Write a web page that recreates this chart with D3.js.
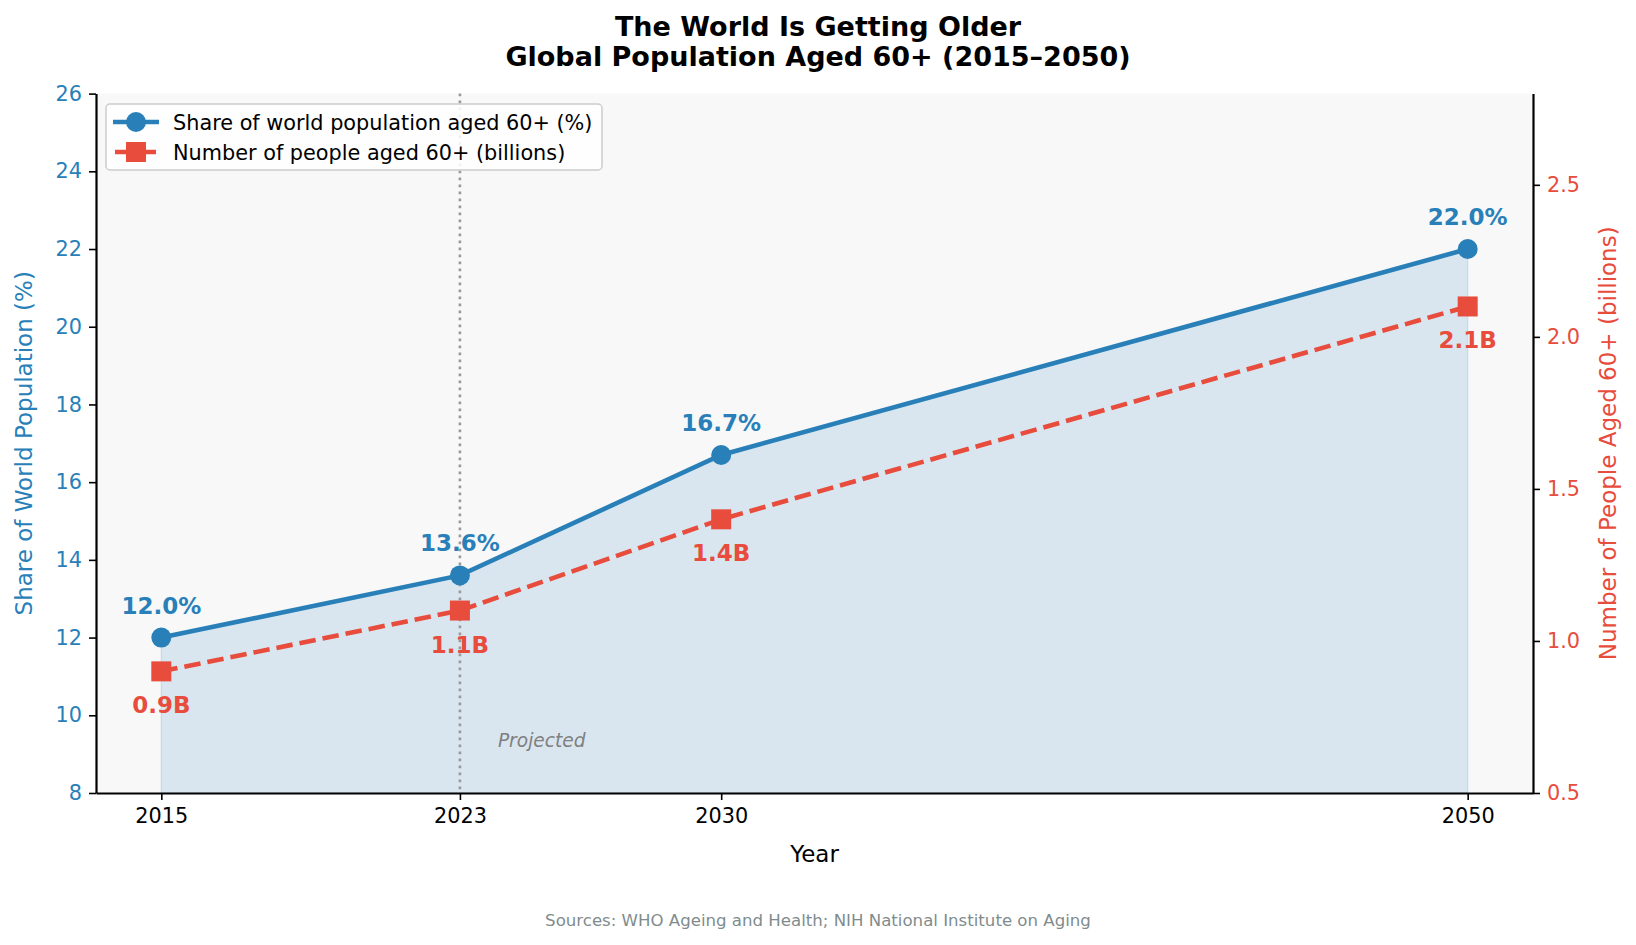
<!DOCTYPE html>
<html lang="en">
<head>
<meta charset="UTF-8">
<title>The World Is Getting Older</title>
<script src="https://d3js.org/d3.v7.min.js"></script>
<style>
  body { margin: 0; background: #fff; }
  svg text { font-family: "DejaVu Sans", sans-serif; }
</style>
</head>
<body>
<script>
// data
var years = [2015, 2023, 2030, 2050];
var sharePct = [12.0, 13.6, 16.7, 22.0];
var peopleBn = [0.9, 1.1, 1.4, 2.1];
var shareLabels = ["12.0%", "13.6%", "16.7%", "22.0%"];
var peopleLabels = ["0.9B", "1.1B", "1.4B", "2.1B"];
var leftTicks = [8, 10, 12, 14, 16, 18, 20, 22, 24, 26];
var rightTicks = [0.5, 1.0, 1.5, 2.0, 2.5];
var projectedFrom = 2023;

var W = 1636, H = 945;
var blue = "#2980b9", red = "#e74c3c";
var m = {left: 96, right: 1533, top: 93.6, bottom: 793};

var svg = d3.select("body").append("svg")
    .attr("width", W).attr("height", H);

var x = d3.scaleLinear().domain([2013.25, 2051.75]).range([m.left, m.right]);
var yL = d3.scaleLinear().domain([8, 26]).range([m.bottom, m.top]);
var yR = d3.scaleLinear().domain([0.5, 2.8]).range([m.bottom, m.top]);

// plot background
svg.append("rect")
    .attr("x", m.left).attr("y", m.top)
    .attr("width", m.right - m.left).attr("height", m.bottom - m.top)
    .attr("fill", "#f8f8f8");

// area under share line
var area = d3.area()
    .x(function(d, i) { return x(years[i]); })
    .y0(yL(8))
    .y1(function(d) { return yL(d); });
svg.append("path")
    .datum(sharePct)
    .attr("d", area)
    .attr("fill", blue).attr("fill-opacity", 0.15)
    .attr("stroke", blue).attr("stroke-opacity", 0.15).attr("stroke-width", 1.5);

// projected divider
svg.append("line")
    .attr("x1", x(projectedFrom)).attr("x2", x(projectedFrom))
    .attr("y1", m.top).attr("y2", m.bottom)
    .attr("stroke", "#999999").attr("stroke-width", 2.6)
    .attr("stroke-dasharray", "2.6,4.4");
svg.append("text")
    .attr("x", x(projectedFrom) + 38).attr("y", yL(9.3) + 4.5)
    .attr("font-size", 18.6).attr("font-style", "italic")
    .attr("fill", "#808080")
    .text("Projected");

// lines
var lineL = d3.line()
    .x(function(d, i) { return x(years[i]); })
    .y(function(d) { return yL(d); });
var lineR = d3.line()
    .x(function(d, i) { return x(years[i]); })
    .y(function(d) { return yR(d); });

svg.append("path").datum(peopleBn)
    .attr("d", lineR).attr("fill", "none")
    .attr("stroke", red).attr("stroke-width", 4.6)
    .attr("stroke-dasharray", "16.5,7");
svg.append("path").datum(sharePct)
    .attr("d", lineL).attr("fill", "none")
    .attr("stroke", blue).attr("stroke-width", 4.6);

// markers
var sq = 20;
svg.selectAll(".sq").data(peopleBn).enter().append("rect")
    .attr("x", function(d, i) { return x(years[i]) - sq / 2; })
    .attr("y", function(d) { return yR(d) - sq / 2; })
    .attr("width", sq).attr("height", sq)
    .attr("fill", red);
svg.selectAll(".dot").data(sharePct).enter().append("circle")
    .attr("cx", function(d, i) { return x(years[i]); })
    .attr("cy", function(d) { return yL(d); })
    .attr("r", 10)
    .attr("fill", blue);

// value labels
svg.selectAll(".sl").data(sharePct).enter().append("text")
    .attr("x", function(d, i) { return x(years[i]); })
    .attr("y", function(d) { return yL(d) - 24; })
    .attr("text-anchor", "middle")
    .attr("font-size", 23).attr("font-weight", "bold")
    .attr("fill", blue)
    .text(function(d, i) { return shareLabels[i]; });
svg.selectAll(".pl").data(peopleBn).enter().append("text")
    .attr("x", function(d, i) { return x(years[i]); })
    .attr("y", function(d) { return yR(d) + 42; })
    .attr("text-anchor", "middle")
    .attr("font-size", 23).attr("font-weight", "bold")
    .attr("fill", red)
    .text(function(d, i) { return peopleLabels[i]; });

// axes
function styleAxis(g, color) {
    g.selectAll(".domain").attr("stroke", "#000").attr("stroke-width", 2.2);
    g.selectAll(".tick line").attr("stroke", "#000").attr("stroke-width", 1.6);
    g.selectAll(".tick text").attr("fill", color)
        .attr("font-size", 20.8).attr("font-family", "DejaVu Sans, sans-serif");
}

var gx = svg.append("g").attr("transform", "translate(0," + m.bottom + ")")
    .call(d3.axisBottom(x).tickValues(years).tickFormat(d3.format("d"))
        .tickSizeInner(7).tickSizeOuter(0).tickPadding(8));
styleAxis(gx, "#000");

var gl = svg.append("g").attr("transform", "translate(" + m.left + ",0)")
    .call(d3.axisLeft(yL).tickValues(leftTicks).tickFormat(d3.format("d"))
        .tickSizeInner(7).tickSizeOuter(0).tickPadding(7));
styleAxis(gl, blue);

var gr = svg.append("g").attr("transform", "translate(" + m.right + ",0)")
    .call(d3.axisRight(yR).tickValues(rightTicks).tickFormat(d3.format(".1f"))
        .tickSizeInner(7).tickSizeOuter(0).tickPadding(7));
styleAxis(gr, red);

// axis titles
svg.append("text")
    .attr("x", (m.left + m.right) / 2).attr("y", 862)
    .attr("text-anchor", "middle").attr("font-size", 23)
    .attr("fill", "#000").text("Year");
svg.append("text")
    .attr("transform", "translate(32," + (m.top + m.bottom) / 2 + ") rotate(-90)")
    .attr("text-anchor", "middle").attr("font-size", 23)
    .attr("fill", blue).text("Share of World Population (%)");
svg.append("text")
    .attr("transform", "translate(1616," + (m.top + m.bottom) / 2 + ") rotate(-90)")
    .attr("text-anchor", "middle").attr("font-size", 23)
    .attr("fill", red).text("Number of People Aged 60+ (billions)");

// title
svg.append("text")
    .attr("x", W / 2).attr("y", 36)
    .attr("text-anchor", "middle").attr("font-size", 27).attr("font-weight", "bold")
    .text("The World Is Getting Older");
svg.append("text")
    .attr("x", W / 2).attr("y", 66)
    .attr("text-anchor", "middle").attr("font-size", 27).attr("font-weight", "bold")
    .text("Global Population Aged 60+ (2015\u20132050)");

// source
svg.append("text")
    .attr("x", W / 2).attr("y", 926)
    .attr("text-anchor", "middle").attr("font-size", 16.6)
    .attr("fill", "#7f8c8d")
    .text("Sources: WHO Ageing and Health; NIH National Institute on Aging");

// legend
var lg = svg.append("g");
lg.append("rect")
    .attr("x", 106).attr("y", 104).attr("width", 496).attr("height", 66)
    .attr("rx", 4).attr("fill", "#fff").attr("fill-opacity", 0.85)
    .attr("stroke", "#cccccc").attr("stroke-width", 1.5);
var items = [
    {label: "Share of world population aged 60+ (%)", color: blue, x1: 113, x2: 159, shape: "circle"},
    {label: "Number of people aged 60+ (billions)", color: red, x1: 115, x2: 156, shape: "square"}
];
items.forEach(function(it, i) {
    var cy = 122 + i * 30;
    lg.append("line")
        .attr("x1", it.x1).attr("x2", it.x2).attr("y1", cy).attr("y2", cy)
        .attr("stroke", it.color).attr("stroke-width", 4.5);
    if (it.shape === "circle") {
        lg.append("circle").attr("cx", 136).attr("cy", cy).attr("r", 10).attr("fill", it.color);
    } else {
        lg.append("rect").attr("x", 136 - sq / 2).attr("y", cy - sq / 2)
            .attr("width", sq).attr("height", sq).attr("fill", it.color);
    }
    lg.append("text")
        .attr("x", 173).attr("y", cy + 7.5)
        .attr("font-size", 20.8).attr("fill", "#000")
        .text(it.label);
});
</script>
</body>
</html>
